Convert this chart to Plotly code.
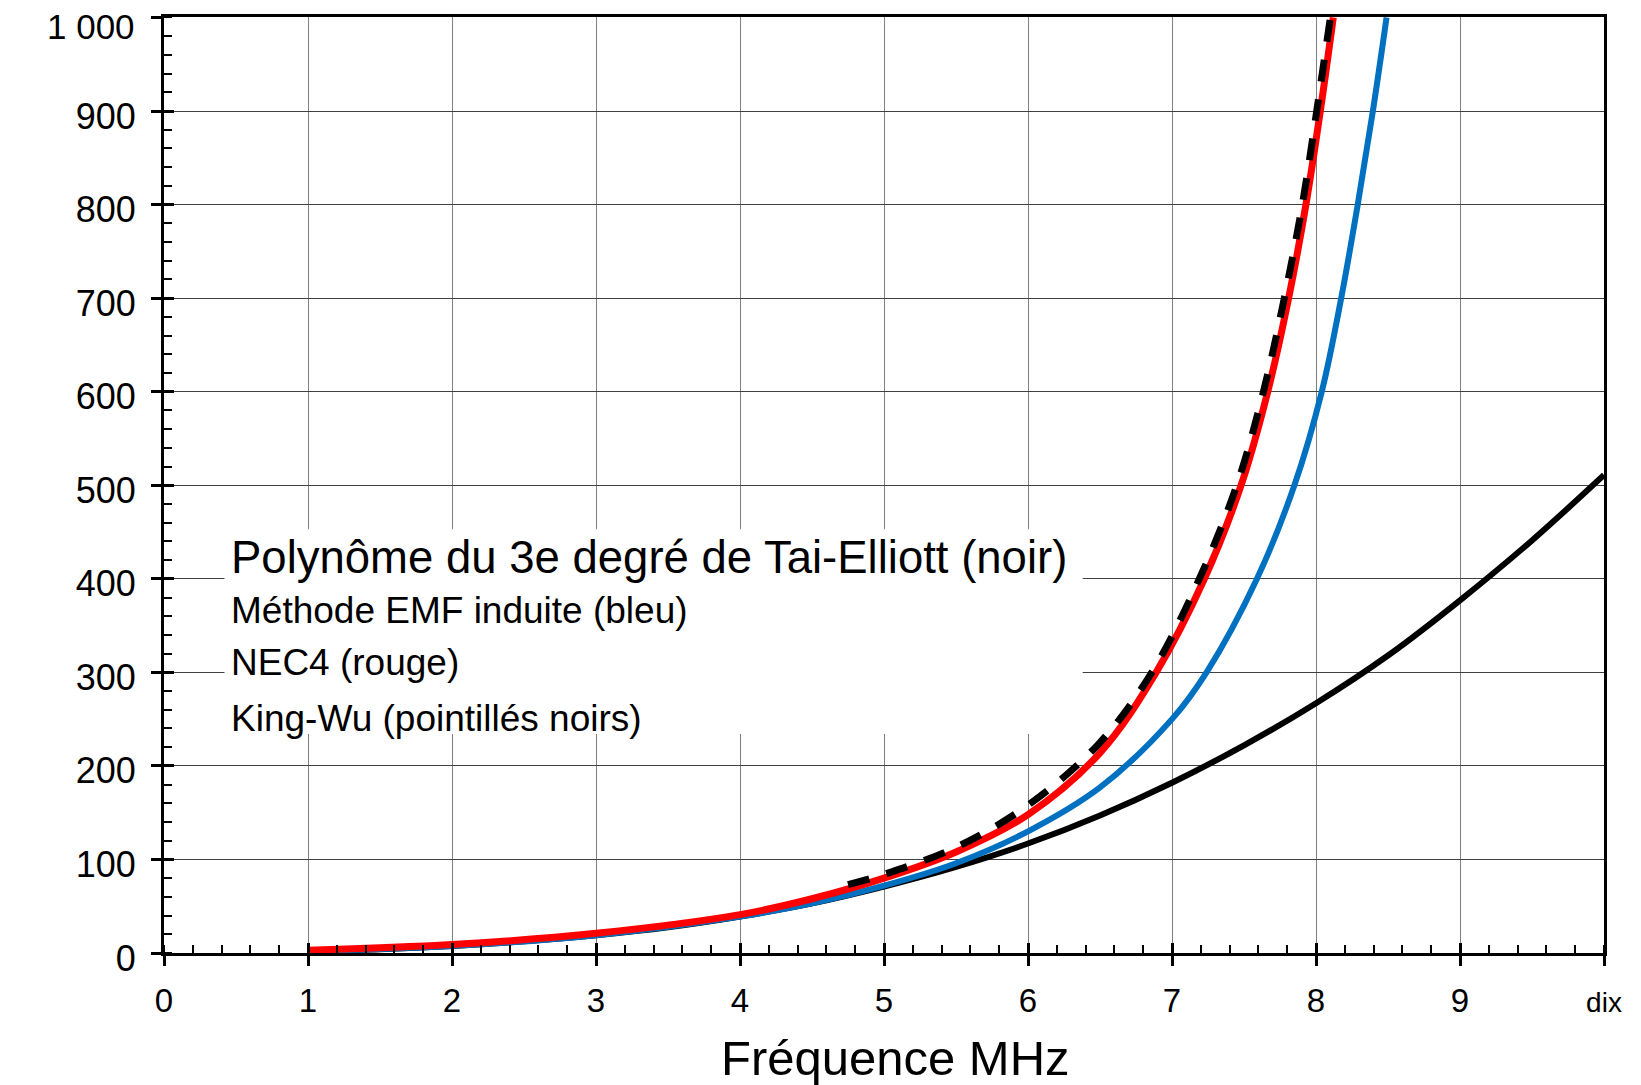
import plotly.graph_objects as go

# Fréquence (MHz) et résistance
freq_tai = [1, 1.5, 2, 2.5, 3, 3.5, 4, 4.5, 5, 5.5, 6, 6.5, 7, 7.5, 8, 8.5, 9, 9.5, 10]
r_tai = [2, 4, 7.5, 12.5, 19, 27.5, 39, 53, 71, 92, 117, 147, 182, 222, 267, 318, 377, 441, 511]

freq_emf = [1, 2, 3, 4, 4.5, 5, 5.5, 6, 6.5, 7, 7.24, 7.59, 7.85, 8.04, 8.175, 8.29, 8.395, 8.49]
r_emf = [2, 7.5, 19, 39, 53, 72, 96, 130, 177, 250, 300, 400, 500, 600, 700, 800, 900, 1000]

freq_nec = [1, 2, 3, 4, 4.5, 5, 5.5, 6, 6.5, 6.89, 7.225, 7.48, 7.665, 7.81, 7.93, 8.03, 8.12]
r_nec = [3, 9, 21, 41, 58, 80, 108, 148, 214, 300, 400, 500, 600, 700, 800, 900, 1000]

freq_kw = [4.75, 5, 5.5, 6, 6.5, 6.86, 7.19, 7.45, 7.635, 7.78, 7.905, 8.005, 8.10]
r_kw = [73, 84, 113, 158, 225, 300, 400, 500, 600, 700, 800, 900, 1000]

x_ticks = list(range(0, 11))
x_ticktext = [str(v) for v in range(0, 10)] + ["<span style='font-size:28px'>dix</span>"]
y_ticks = list(range(0, 1001, 100))
# top label is drawn as an annotation (it sits a little lower than its tick)
y_ticktext = [str(v) for v in range(0, 1000, 100)] + [""]
y_top_label = "1 000"

legend_lines = [
    ("Polynôme du 3e degré de Tai-Elliott (noir)", 45.5, 0.4228),
    ("Méthode EMF induite (bleu)", 37, 0.3663),
    ("NEC4 (rouge)", 37, 0.310),
    ("King-Wu (pointillés noirs)", 37, 0.2503),
]

FONT = "Liberation Sans, Arial, sans-serif"
SPL = dict(shape="spline", smoothing=1.0)

fig = go.Figure()
fig.add_trace(go.Scatter(x=freq_tai, y=r_tai, mode="lines", line=dict(color="#000000", width=6, **SPL), showlegend=False))
fig.add_trace(go.Scatter(x=freq_emf, y=r_emf, mode="lines", line=dict(color="#0070C0", width=6, **SPL), showlegend=False))
fig.add_trace(go.Scatter(x=freq_nec, y=r_nec, mode="lines", line=dict(color="#FF0000", width=7, **SPL), showlegend=False))
fig.add_trace(go.Scatter(x=freq_kw, y=r_kw, mode="lines", line=dict(color="#000000", width=7, dash="22px,18px", **SPL), showlegend=False))
# empty trace so the overlay axes (inner half of major ticks) get drawn
fig.add_trace(go.Scatter(x=[], y=[], xaxis="x2", yaxis="y2", showlegend=False))

# page body has an 8px margin, so the figure is 8px smaller than the window
fig.update_layout(
    width=1633, height=1077,
    margin=dict(l=156, r=37, t=6, b=132),
    paper_bgcolor="white", plot_bgcolor="white",
    font=dict(family=FONT, color="black"),
    xaxis=dict(
        range=[0, 10], tickvals=x_ticks, ticktext=x_ticktext,
        showline=True, linecolor="black", linewidth=3, mirror=True,
        ticks="outside", ticklen=10, tickwidth=3, tickcolor="black",
        tickfont=dict(size=33), ticklabelstandoff=6,
        showgrid=True, gridcolor="#808080", gridwidth=1, zeroline=False,
        minor=dict(dtick=0.2, ticks="inside", ticklen=8, tickwidth=2, tickcolor="black", showgrid=False),
    ),
    yaxis=dict(
        range=[0, 1000.5], tickvals=y_ticks, ticktext=y_ticktext,
        showline=True, linecolor="black", linewidth=3, mirror=True,
        ticks="outside", ticklen=10, tickwidth=3, tickcolor="black",
        tickfont=dict(size=36), ticklabelstandoff=8, ticklabelshift=5,
        showgrid=True, gridcolor="#404040", gridwidth=1, zeroline=False,
        minor=dict(dtick=20, ticks="inside", ticklen=8, tickwidth=2, tickcolor="black", showgrid=False),
    ),
    xaxis2=dict(
        overlaying="x", anchor="y2", range=[0, 10], tickvals=x_ticks,
        ticks="inside", ticklen=10, tickwidth=3, tickcolor="black",
        showticklabels=False, showgrid=False, showline=False, zeroline=False,
    ),
    yaxis2=dict(
        overlaying="y", anchor="x2", range=[0, 1000.5], tickvals=y_ticks,
        ticks="inside", ticklen=10, tickwidth=3, tickcolor="black",
        showticklabels=False, showgrid=False, showline=False, zeroline=False,
    ),
)

fig.add_annotation(
    text=y_top_label, xref="paper", yref="paper", x=0, y=1,
    xanchor="right", yanchor="middle", xshift=-27, yshift=-9,
    showarrow=False, font=dict(size=35, family=FONT, color="black"),
)

# white box behind the legend text (hides the grid; curves never enter it)
fig.add_shape(
    type="rect", xref="paper", yref="paper",
    x0=0.042, x1=0.638, y0=0.234, y1=0.4526,
    fillcolor="white", line=dict(width=0), layer="above",
)

for text, size, ypos in legend_lines:
    fig.add_annotation(
        text=text, xref="paper", yref="paper", x=0.045, y=ypos,
        xanchor="left", yanchor="middle", showarrow=False,
        font=dict(size=size, family=FONT, color="black"),
    )

fig.add_annotation(
    text="Fréquence MHz", xref="paper", yref="paper", x=0.508, y=-0.112,
    xanchor="center", yanchor="middle", showarrow=False,
    font=dict(size=49, family=FONT, color="black"),
)

fig.write_html("out.html")
